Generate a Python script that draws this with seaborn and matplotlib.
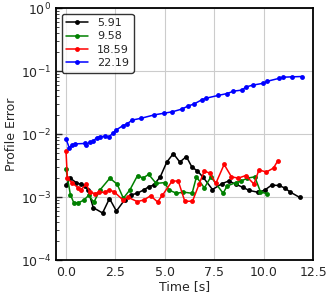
import pandas as pd
import matplotlib
matplotlib.use("Agg")
import matplotlib.pyplot as plt
import seaborn as sns

# series (time [s], profile error)
t_591 = [0.0, 0.22, 0.51, 0.74, 0.98, 1.11, 1.38, 1.85, 2.2, 2.55, 2.96, 3.27, 3.6, 3.97, 4.18, 4.43,
         4.77, 5.1, 5.43, 5.76, 6.09, 6.37, 6.65, 6.94, 7.41, 7.9, 8.23, 8.6, 8.94, 9.26, 9.73,
         10.05, 10.4, 10.77, 11.06, 11.35, 11.82]
e_591 = [0.00155, 0.0020, 0.0017, 0.0016, 0.0015, 0.0013, 0.00068, 0.00056, 0.00095, 0.0006, 0.0009,
         0.00108, 0.00115, 0.00132, 0.00146, 0.00155, 0.0021, 0.0036, 0.0049, 0.0036, 0.0044, 0.0030,
         0.0026, 0.00206, 0.00132, 0.00164, 0.0018, 0.0016, 0.00143, 0.00128, 0.00119, 0.00129,
         0.00155, 0.00153, 0.0014, 0.0012, 0.00099]

t_958 = [0.0, 0.22, 0.39, 0.62, 0.91, 1.15, 1.41, 1.72, 2.22, 2.59, 2.9, 3.23, 3.62, 3.9, 4.18, 4.56,
         5.0, 5.2, 5.59, 5.94, 6.38, 6.6, 7.0, 7.33, 7.95, 8.15, 8.59, 8.84, 9.18, 9.55, 9.84, 10.17]
e_958 = [0.0028, 0.0011, 0.00082, 0.00081, 0.0009, 0.00107, 0.00083, 0.0013, 0.0020, 0.0016, 0.00096,
         0.0013, 0.0022, 0.0020, 0.0023, 0.00165, 0.0017, 0.0013, 0.00115, 0.0012, 0.00115, 0.0021,
         0.0014, 0.0021, 0.00115, 0.0015, 0.0017, 0.00179, 0.0020, 0.0021, 0.00121, 0.00113]

t_1859 = [0.0, 0.07, 0.3, 0.62, 0.74, 1.03, 1.21, 1.46, 1.68, 1.95, 2.19, 2.44, 2.9, 3.15, 3.6, 3.94,
          4.28, 4.63, 4.88, 5.37, 5.68, 6.01, 6.4, 6.73, 7.0, 7.27, 7.58, 8.0, 8.37, 8.72, 9.09,
          9.51, 9.76, 10.14, 10.5, 10.72]
e_1859 = [0.0054, 0.0020, 0.0017, 0.0014, 0.0013, 0.0016, 0.00119, 0.00114, 0.00119, 0.00119, 0.0013,
          0.00121, 0.00089, 0.00099, 0.00085, 0.0009, 0.00105, 0.00084, 0.00107, 0.0018, 0.0018,
          0.00086, 0.00086, 0.0016, 0.0026, 0.0024, 0.00165, 0.0033, 0.0021, 0.0020, 0.0022,
          0.00161, 0.0027, 0.0025, 0.0029, 0.0038]

t_2219 = [0.0, 0.17, 0.32, 0.47, 0.95, 1.0, 1.2, 1.38, 1.55, 1.73, 1.96, 2.18, 2.4, 2.55, 2.86, 3.08,
          3.35, 3.79, 4.47, 4.94, 5.38, 5.87, 6.16, 6.47, 6.87, 7.07, 7.68, 8.15, 8.47, 8.91, 9.1,
          9.47, 9.97, 10.19, 10.8, 11.0, 11.41, 11.92]
e_2219 = [0.0084, 0.0060, 0.0068, 0.0070, 0.0071, 0.0068, 0.0074, 0.0077, 0.0088, 0.0091, 0.0092,
          0.0091, 0.0105, 0.0117, 0.0135, 0.0145, 0.0167, 0.0178, 0.0202, 0.0214, 0.0226, 0.025,
          0.0278, 0.030, 0.035, 0.037, 0.041, 0.044, 0.048, 0.050, 0.056, 0.060, 0.064, 0.069,
          0.077, 0.080, 0.081, 0.082]

labels = ["5.91", "9.58", "18.59", "22.19"]
colors = ["black", "green", "red", "blue"]
times = [t_591, t_958, t_1859, t_2219]
errors = [e_591, e_958, e_1859, e_2219]

sns.set_style("ticks")
plt.rcParams['font.family'] = ['DejaVu Sans']

fig = plt.figure(figsize=(3.32, 2.99), dpi=100)
ax = fig.add_axes([0.169, 0.130, 0.774, 0.843])

for t, e, lab, c in zip(times, errors, labels, colors):
    df = pd.DataFrame({"Time": t, "Error": e})
    sns.lineplot(x="Time", y="Error", data=df, color=c, label=lab, marker="o",
                 markersize=3.5, markeredgecolor=c, markeredgewidth=0, linewidth=1.1, ax=ax)

ax.set_yscale("log")
ax.set_ylim(1e-4, 1)
ax.set_xlim(-0.5, 12.5)
ax.set_xticks([0.0, 2.5, 5.0, 7.5, 10.0, 12.5])
ax.set_xlabel("Time [s]", fontsize=9, labelpad=1)
ax.set_ylabel("Profile Error", fontsize=9, labelpad=2)
ax.tick_params(axis="both", which="both", direction="in", labelsize=9)
ax.tick_params(axis="x", length=0, pad=4)
ax.tick_params(axis="y", which="major", length=4, width=1)
ax.tick_params(axis="y", which="minor", length=2, width=0.6)
ax.grid(True, which="major", color="#cccccc", linewidth=0.8)
for s in ax.spines.values():
    s.set_linewidth(1.3)
    s.set_color("black")

leg = ax.legend(loc="upper left", fontsize=8, frameon=True, fancybox=True,
                borderpad=0.4, labelspacing=0.3, handlelength=2.0)
leg.get_frame().set_edgecolor("black")
leg.get_frame().set_linewidth(1.0)

fig.savefig("out.png", dpi=100)
